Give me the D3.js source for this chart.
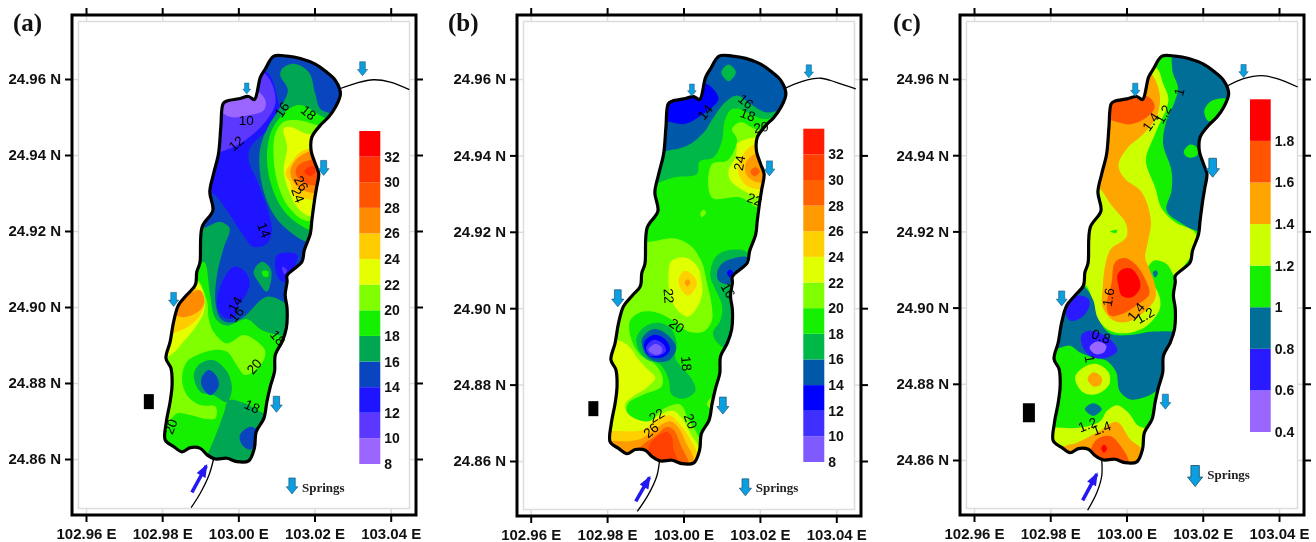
<!DOCTYPE html>
<html>
<head>
<meta charset="utf-8">
<script src="https://cdn.jsdelivr.net/npm/d3@7"></script>
<style>
html, body { margin: 0; padding: 0; background: #fff; }
svg { display: block; filter: blur(0.4px); }
text { font-family: "Liberation Sans", Arial, sans-serif; }
.tick-label text { font-weight: bold; font-size: 15px; fill: #111; }
.legend-label text { font-weight: bold; font-size: 14px; fill: #111; }
.iso { font-size: 13.5px; fill: #000; text-anchor: middle; dominant-baseline: central; }
.letter, .springs { font-family: "Liberation Serif", "Times New Roman", serif; font-weight: bold; }
</style>
</head>
<body>
<svg width="1316" height="542"></svg>
<script>
// All map points are [lon, lat] in thousandths of a degree from 103.00 E / 24.90 N.
var lon_ticks = [102.96, 102.98, 103.00, 103.02, 103.04];
var lat_ticks = [24.86, 24.88, 24.90, 24.92, 24.94, 24.96];

var lake_outline = [[9.3,66],[12.8,66],[16.3,65.4],[20.2,63.9],[22.8,62.1],[25.5,59.6],[26.8,56.1],[25.5,52.6],[23.7,50],[21.5,47.8],[19.3,44.7],[19.1,41.2],[20.2,37.7],[21.1,35.1],[20.5,31.2],[20,28.1],[19.3,22.8],[18.9,19.3],[17.3,14.9],[16.7,11.9],[12.8,8.3],[12.8,6.7],[12.3,3.2],[12.8,-0.4],[12.6,-5.6],[11.5,-9.1],[9.7,-12.6],[9.5,-17],[8.4,-20.9],[7.5,-24.9],[6.7,-29.3],[4.7,-32.8],[4.2,-37.2],[2.7,-40.5],[-0.4,-40.7],[-3,-39.8],[-6,-40],[-8.2,-38.9],[-10,-37.2],[-12.6,-37],[-14.8,-38.1],[-17,-36.7],[-19.2,-35],[-18.9,-30.2],[-17.9,-24.9],[-17.4,-20.5],[-17.7,-16.1],[-19,-13.5],[-17.9,-9.1],[-17,-3.9],[-15.7,0.5],[-13.5,3.2],[-11.3,5.8],[-10.9,9.3],[-10.1,11.6],[-9.5,21.1],[-6.7,25.4],[-7.5,30.3],[-6.5,35.1],[-5.2,40.4],[-4.6,47.4],[-4,53.5],[-3,54.2],[0.1,54.8],[2.7,55.4],[4.2,54.6],[5.8,60.5],[7.1,62.7]];

var levels_ab = [8, 10, 12, 14, 16, 18, 20, 22, 24, 26, 28, 30, 32];
var levels_c = [0.4, 0.6, 0.8, 1, 1.2, 1.4, 1.6, 1.8];
var colors_a = ["#9a66ff","#5c38ff","#1e14ff","#0a45c0","#00a652","#14f000","#80ff00","#e6ff00","#ffcc00","#ff8c00","#ff5500","#ff3300","#ff0000"];
var colors_b = ["#7f5aff","#4030ff","#0000ff","#0058a8","#00b848","#14f000","#80ff00","#e0ff00","#ffd000","#ff9a00","#ff6000","#ff4000","#ff1a00"];
var colors_c = ["#9966ff","#2a1aff","#006e96","#14f000","#ccff00","#ffa500","#ff5500","#ff0000"];

// Each band is [lower level, ring]. They stack in order, the lake outline cuts them.
var bands_a = [
 [12, [[-10,31.6],[-6.5,29.8],[-3,25.4],[1,19.3],[4,15.8],[7.5,16.7],[8.8,20.2],[7.5,26.3],[4.9,33.3],[2.7,38.6],[3.2,42.1],[7.5,46.5],[10.6,50.9],[10.2,55.3],[7.5,61.8],[-1.2,63.2],[-10,45.6]]],
 [10, [[-10,39.5],[-4.7,40.8],[0.5,43],[6.7,48.3],[9.7,53.5],[8.8,58.8],[6.7,61.8],[4.9,63.2],[-5.6,58.8],[-10,50]]],
 [8, [[-4.7,51.8],[-2.1,50],[2.3,50.4],[6.7,51.8],[7.1,54.4],[4.9,57],[1.4,57.9],[-5.6,56.1]]],
 [16, [[11.5,62.7],[14.5,64],[18.5,61.8],[20.2,56.1],[21.5,52.2],[25,50.4],[28.5,43.9],[28.5,19.3],[18.5,17.1],[13.7,19.7],[9.7,23.7],[7.1,29],[5.6,36],[5.8,42.1],[8,47.8],[10.2,51.3],[13,57],[11,61]]],
 [18, [[16.7,53.1],[21.5,50.4],[28.5,45.6],[28.5,26.3],[19.8,20.2],[16.3,21.5],[11.9,25.4],[8.8,31.6],[7.5,38.6],[8.4,45.6],[11,50],[14.5,52.8]]],
 [20, [[11.9,48.7],[16.3,49.1],[20.7,47.8],[28.5,45.6],[28.5,26.3],[19.8,22.8],[17.2,22.8],[13.2,26.3],[10.6,31.6],[9.3,38.6],[9.7,45.6]]],
 [22, [[11.9,46.9],[13.7,47.4],[18,45.6],[28.5,43.9],[28.5,26.3],[19.3,23.7],[15.4,26.3],[13.2,30.7],[11.9,36],[12.8,42.1]]],
 [24, [[19.3,41.7],[16.3,40.8],[13.7,37.7],[12.3,35.1],[13.7,32.5],[14.5,29.8],[19.8,28.1],[28.5,28.1],[28.5,42.1]]],
 [26, [[19.3,41.2],[15.4,39],[13.7,36],[14.5,32.9],[18,30.3],[28.5,30.7],[28.5,42.1]]],
 [28, [[18.5,38.6],[15.8,37.3],[15,35.5],[16.7,32.9],[20.7,32],[28.5,35.1],[23.3,39.5]]],
 [30, [[18.5,36.9],[17.3,35.5],[18.9,34.5],[20.2,35.5],[19.8,37]]],
 [16, [[-9.1,20.8],[-4.7,22.4],[-2.3,20.7],[-3.9,15.4],[-5.6,8.4],[-6,1.4],[-4.7,-3],[-2.1,-4.1],[1.4,-2.6],[7.5,2.7],[12.8,0.5],[16.3,-5.6],[16.3,-49.5],[-27.5,-49.5],[-27.5,11.9],[-12.6,20.7]]],
 [12, [[-4,7.1],[-1.2,10.6],[1.8,9.3],[3,6.2],[1.4,2.3],[0.1,0.5],[-1.2,-3],[-3.9,-2.6],[-5.6,0.5]]],
 [16, [[6.2,11.9],[8.6,9.7],[7.5,4],[5.3,6.6],[4,9.3]]],
 [18, [[6.2,9.4],[7.8,9.4],[7.8,8],[6.7,8]]],
 [12, [[10.2,13.7],[15.4,13.7],[12.3,6.6],[10.6,7.5],[9.7,10.1]]],
 [10, [[11.5,10.6],[12.8,9.7],[12.1,8.6]]],
 [18, [[-9.1,11.9],[-7.4,3.1],[-6,-3],[-3,-4.9],[2.3,-3.2],[6.2,-6.1],[11.9,-7.6],[16.3,-8.3],[16.3,-29.3],[7.5,-28.3],[1.8,-25.4],[-2.5,-24.5],[-3.7,-27.6],[-5.6,-32.8],[-8,-38.5],[-10,-42.5],[-27.5,-42.5],[-27.5,3.1],[-13.5,7.5]]],
 [20, [[-10.9,7.5],[-8.2,1.4],[-7.8,-3],[-6.5,-6.5],[-3,-9.6],[1.4,-7.4],[4.9,-9.1],[7.1,-11.8],[5.8,-15.3],[1.8,-17.9],[-0.4,-15.3],[-3,-11.8],[-6.5,-11.3],[-10.9,-12.7],[-13.5,-14.4],[-14.8,-18.8],[-13.5,-23.2],[-10,-25.8],[-6,-26.2],[-6,-29.3],[-8.2,-29.5],[-12.6,-28.4],[-16.1,-28],[-19.2,-31.1],[-27.5,-32],[-27.5,3.1],[-13.5,8.4]]],
 [16, [[-11.7,-17.9],[-10,-14.9],[-6.5,-14],[-3,-17],[-1.7,-21.4],[-3,-25],[-6.5,-23.2],[-10,-22.3]]],
 [14, [[-9.7,-18.8],[-7.8,-16.6],[-5.6,-18.4],[-5.2,-21],[-7.4,-23.2],[-9.5,-21]]],
 [14, [[0.4,-33.7],[3.2,-31.5],[5.3,-32.8],[4.5,-35.5],[3.3,-37.5],[1,-36.3]]],
 [22, [[-10.9,6.6],[-8.9,2.3],[-9.1,-1.3],[-10.9,-4.8],[-14.4,-9.1],[-17.9,-12.7],[-27.5,-14.4],[-27.5,3.1]]],
 [24, [[-10.9,4.9],[-8.9,1.8],[-10,-2.1],[-12.6,-4.8],[-16.1,-6.5],[-20.5,-7.4],[-20.5,3.1]]],
 [26, [[-10,4.4],[-8.9,1.4],[-10,-0.8],[-12.6,-2.3],[-15.2,-2.6],[-18.7,-0.4],[-13.5,3.1]]]
];

var bands_b = [
 [16, [[-11.4,30.3],[-7.9,32.2],[-2.6,34.2],[3.5,35.1],[4.2,38.4],[7.9,39.5],[10.1,43.9],[10.7,48.7],[12.3,51.9],[14.4,52.2],[18.8,50.2],[21.4,49.5],[24.5,50.4],[28.9,50.9],[28.9,71.9],[-11.4,71.9]]],
 [14, [[-11.4,40.4],[-4.4,41.2],[0.9,42.5],[5.3,46],[7.9,50],[10.9,53.9],[14,55.7],[17.5,53.5],[21.4,51.3],[24.5,51.7],[28.9,54.3],[28.9,71.9],[-11.4,71.9]]],
 [16, [[9.9,61.8],[11.8,63.8],[13.7,61.8],[11.8,59.4]]],
 [12, [[-11.4,48.2],[-4.4,48.9],[0,48.2],[3.9,50],[9.2,54.8],[6.1,58.7],[4.4,57.9],[2.6,55.2],[-11.4,55.2]]],
 [20, [[12.7,46.9],[14.9,48.7],[18.8,46.9],[23.6,45.6],[23.6,25.5],[19.3,26.4],[14.9,29],[7.4,29],[7.4,37.7],[11.4,38.6],[13.6,42.1],[14,44.3]]],
 [22, [[14,43],[18.4,44.7],[23.6,43.9],[23.6,29],[20.1,29],[16.6,30.3],[12.3,33.4],[11.8,36],[13.6,39.5],[14,42.1]]],
 [24, [[18.8,43],[16.2,41.2],[14.4,37.7],[14.4,35.1],[16.6,32],[23.6,31.6],[23.6,43]]],
 [26, [[18.8,40.4],[16.2,37.7],[16.6,34.7],[19.7,32.9],[23.6,33.4],[23.6,39.5]]],
 [28, [[18.8,36.9],[17.5,35.8],[18.6,34.5],[20,35.8]]],
 [20, [[4.4,24.8],[5.3,25.8],[5.9,25],[4.8,23.9]]],
 [20, [[-9.6,17.3],[-2.6,18.3],[1.8,16.4],[4.8,12],[6.1,6.8],[7.4,0.6],[7.4,-3.3],[5.3,-6.1],[1.3,-6.1],[-2.6,-3.3],[-7,-1.1],[-11.4,-1.1],[-14,-3.3],[-13.8,-7.7],[-11.4,-12.1],[-7.9,-14.3],[-5.7,-17.3],[-5.7,-20.4],[-10.5,-22.6],[-14.4,-24.8],[-14.9,-26.9],[-12.7,-29.3],[-8.8,-30],[-6.1,-26.9],[-0.9,-25.2],[1.3,-29.1],[3.9,-33.5],[5.3,-37],[2.6,-42.3],[-28.9,-42.3],[-28.9,17.3]]],
 [20, [[7.4,-23.4],[7.9,-26.5],[6.1,-25.2]]],
 [16, [[7,8.5],[8.3,13.3],[11.4,15.1],[16.6,14.6],[14.9,7.6],[14.9,-11.6],[11.4,-10.8],[8.8,-9],[7.7,-6.4],[9.6,-3.3],[10.1,0.6],[8.3,5]]],
 [14, [[8.8,9.4],[10.5,12],[16.6,13.3],[14,8.5],[11.8,6.3],[9.2,7.2]]],
 [12, [[11.4,9.4],[12.3,10.1],[13,9.2],[12.1,8.1]]],
 [22, [[-3.9,9.4],[-3.1,12.4],[0.4,13.3],[3.5,11.1],[4.8,6.8],[4.6,2.4],[1.3,-2.2],[-1.8,-0.3],[-3.5,3.3]]],
 [24, [[-1.3,7.6],[0.4,9.8],[2.6,8.5],[3.5,6.3],[1.3,3.3],[-0.4,4.6]]],
 [26, [[0.3,6.8],[1.1,7.6],[1.8,6.8],[1,5.7]]],
 [16, [[-12.3,-7.7],[-10.5,-5.1],[-7,-3.8],[-3.5,-5.1],[-1.8,-9],[-2.2,-12.9],[-0.4,-15.6],[2.2,-18.6],[3.1,-21.7],[0,-23.7],[-3.1,-22.6],[-3.9,-18.6],[-6.1,-14.7],[-9.6,-13.4],[-11.8,-10.8]]],
 [14, [[-10.9,-8.1],[-7.9,-5.5],[-4.4,-6.8],[-1.9,-10.3],[-3.5,-13.4],[-7,-14],[-9.6,-12.5]]],
 [12, [[-10.3,-9],[-7.9,-7],[-4.8,-8.1],[-3.5,-10.8],[-5.3,-12.8],[-7.9,-12.9],[-9.8,-11.6]]],
 [10, [[-9.8,-10.3],[-7.9,-8.3],[-5.3,-9.4],[-4.6,-11.2],[-6.1,-12.3],[-8.8,-12.3]]],
 [8, [[-9.2,-10.9],[-7.4,-9.4],[-5.7,-10.3],[-5.7,-11.6],[-7.4,-12.2]]],
 [22, [[-21.9,-8.6],[-16.6,-8.6],[-14.4,-9.9],[-11.8,-13.4],[-9.2,-16.2],[-7.4,-18.2],[-9.6,-20.8],[-13.1,-23],[-15.3,-25.2],[-14.7,-27.4],[-12.3,-29.1],[-9.2,-29.6],[-6.1,-27.8],[-2.6,-26.9],[-0.2,-29.1],[2.2,-33.5],[3.9,-36.1],[4.4,-42.3],[-24.5,-42.3]]],
 [24, [[-21.9,-32.6],[-19.3,-32.2],[-14.9,-32.2],[-10.5,-31.8],[-7,-29.1],[-3.5,-28.1],[-0.9,-30.4],[1.8,-34.4],[3.5,-37.9],[3.5,-42.3],[-24.5,-42.3]]],
 [26, [[-20.1,-35.3],[-14,-34.8],[-10.5,-33.9],[-7,-31.3],[-3.5,-29.6],[-1.3,-31.3],[0.9,-35.7],[2.6,-39.2],[2.6,-42.3],[-24.5,-42.3]]],
 [28, [[-11.4,-37],[-10.1,-35.3],[-7.4,-33.5],[-4.4,-31.1],[-2.6,-31.8],[-0.4,-36.6],[1.3,-40.1],[1.3,-42.7],[-7.9,-42.7]]],
 [30, [[-9.2,-37],[-7.9,-34.4],[-4.4,-32.4],[-3.1,-33.5],[-2.6,-37],[-1.3,-41.4],[-6.1,-42.7],[-7.9,-39.6]]]
];

var bands_c = [
 [0.8, [[13.1,70],[12,62.5],[13.5,57.7],[12.6,53.9],[10.5,49.1],[9.6,43],[11.8,36],[11.8,30.7],[10.5,25.5],[14,22.4],[18.4,20.2],[27,20.2],[27,70]]],
 [1, [[20.4,51.7],[22.4,54.3],[26.3,54.7],[25,50.8],[21.5,48.9]]],
 [1, [[15,40.8],[16.7,42.8],[18.4,42.1],[18.6,40],[16.3,39.4]]],
 [1.2, [[5.3,64],[8.1,62.7],[9.6,58.8],[11,54.4],[7.5,45.6],[5.1,38.6],[7.5,31.6],[9.3,25.9],[12.8,22.4],[18,19.7],[18,15.4],[15.4,11.4],[12.8,8.3],[10.6,11.4],[7.1,12.3],[5.3,9.7],[5.3,8.4],[6.7,6.6],[8.6,3.1],[8.7,-0.4],[5.3,-4.8],[0.1,-6.7],[-4.3,-6.1],[-7.8,-2.6],[-8.7,1.4],[-11.1,6.2],[-17.4,6.6],[-17.4,31.6],[-12.2,64]]],
 [0.8, [[6.9,9.2],[7.8,9.8],[8.2,8.8],[7.5,7.9]]],
 [1, [[-4.3,20],[-2.5,20.4],[-2.7,19.6]]],
 [1.4, [[6.2,61.8],[8.7,56.1],[8,50.4],[4.5,45.6],[0.1,41.7],[-2.1,37.3],[-0.4,33.8],[4,30.3],[6.4,22.8],[5.5,16.7],[4.9,13.2],[6,10.1],[7.5,5.8],[7.5,2.3],[4.5,-1.3],[0.5,-3.7],[-3.4,-3.4],[-6.2,0],[-6.2,5.8],[-5.6,11],[-4.1,15.4],[-0.1,18.4],[-0.1,21.9],[-3.9,26.8],[-7.8,32],[-12.2,33.3],[-12.2,54.4],[1.8,63.2]]],
 [1.6, [[-6,49.6],[-3.4,49],[1,48.1],[5.4,50],[7.4,52.6],[6.4,54.8],[3.6,56.1],[-1.7,57],[-6,56.1]]],
 [1.6, [[-3,11.9],[-0.4,13],[2.7,11],[4.9,7.5],[6,3.6],[3.2,1],[-1.2,-1.7],[-4.3,-2.1],[-5.2,0.5],[-3.9,6.6]]],
 [1.8, [[-2.4,8.4],[-1.2,10],[1,10.3],[3.1,8],[3.6,5.3],[1.4,2.7],[-1.2,3.1],[-2.1,5.8]]],
 [0.8, [[-11.3,5.6],[-8.8,2.1],[-7.6,-2.6],[-4.3,-6.8],[1,-7.2],[7.1,-6.3],[14.1,-7.2],[14.1,-14.4],[8.4,-21.4],[4.5,-23.6],[1,-24.1],[-1.8,-21.9],[-2.7,-17],[-5.1,-14],[-8.7,-13.1],[-12.2,-11.8],[-14.8,-10],[-19.2,-10.5],[-20.9,3.1],[-15.7,5.8]]],
 [0.6, [[-16.1,0],[-13,3.1],[-10,2.3],[-9.7,0.5],[-11.8,-2.6],[-14.9,-3.4]]],
 [0.6, [[-11.9,-7.4],[-10,-6.1],[-6.9,-6.7],[-3.9,-8.7],[-2.4,-11.3],[-5.2,-13.1],[-8.7,-13.1],[-11.1,-11.1]]],
 [0.4, [[-9.7,-10.5],[-7.7,-8.9],[-5.3,-10],[-6,-11.8],[-8.2,-12.2]]],
 [1.2, [[-13.5,-18.4],[-11.3,-15.7],[-7.8,-14.8],[-4.7,-17],[-4.5,-20.1],[-7.8,-22.7],[-11.3,-22.3]]],
 [1.4, [[-10.2,-18.6],[-8.7,-17],[-6.5,-18.4],[-6.7,-20.1],[-8.7,-20.7]]],
 [0.8, [[-10.9,-26.6],[-8.7,-25.1],[-6.5,-26.6],[-8.7,-28.4]]],
 [1.2, [[-19.2,-31.5],[-12.2,-31.5],[-6.9,-29.8],[-5.1,-27.1],[-2.5,-25.6],[0.5,-27.6],[3.2,-31.1],[8.4,-32.8],[8.4,-44.2],[-22.7,-44.2],[-22.7,-31.5]]],
 [1.4, [[-16.5,-36.8],[-13,-35.5],[-7.8,-32.8],[-2.5,-30],[1,-34.6],[4,-37.2],[4.5,-44.2],[-12.2,-44.2]]],
 [1.6, [[-9.5,-38.1],[-7.8,-34.6],[-4.3,-33.7],[-1.2,-36.8],[0.5,-40.7],[-3.4,-44.2],[-8.7,-42.5]]],
 [1.8, [[-6.6,-37],[-5.9,-35.9],[-5.1,-37],[-5.9,-38.1]]]
];

// Contour labels: [text, lon, lat, rotation].
var labels_a = [["10",2.1,49.1,0],["12",-0.5,43,-40],["16",11.5,51.9,-55],["18",18.4,51.1,40],["26",16.5,32.5,60],["24",15.6,29.4,70],["14",6.7,20.2,70],["14",-0.8,0.7,-60],["16",-0.5,-2,-50],["18",10.3,-8.1,50],["20",4.2,-15.7,-50],["18",3.6,-26.2,25],["20",-17.7,-31.5,-70]];
var labels_b = [["16",16.3,54.1,40],["18",16.8,50.6,20],["20",20.3,47.3,-10],["14",5.7,51.3,-50],["24",14.7,38,-80],["22",18.6,28.4,20],["16",11.6,4.6,60],["22",-3.9,3.2,85],["20",-1.8,-4.6,35],["18",0.7,-14.5,85],["22",-7,-28.1,-30],["26",-8.5,-32,-40],["20",1.8,-29.6,70]];
var labels_c = [["1",13.9,56.6,-75],["1.2",9.7,50.7,-60],["1.4",6.4,48.7,-55],["1.6",-4.7,2.7,-80],["1.4",2.5,-1.1,-50],["1.2",4.9,-2.1,-30],["0.8",-6.7,-7.6,20],["1",-9.7,-13.5,80],["1.2",-10.2,-30.8,-20],["1.4",-6.5,-31.7,-20]];

var river_north_a = [[26.8,57.5],[31.2,59],[35.5,59.8],[39.9,59.2],[44.9,57.2]];
var river_north_b = [[26.2,57.4],[31.1,59.4],[35.9,60.2],[39.8,59.2],[45.1,57.4]];
var river_north_c = [[26.3,58.1],[30.7,60.1],[35.5,60.9],[39.5,60.1],[44.9,57.9]];
var river_south_a = [[-6.5,-40],[-7.7,-44.2],[-10,-49],[-12.4,-52.8]];
var river_south_b = [[-6.3,-40.1],[-7,-44],[-9.2,-48.8],[-12.1,-53.2]];
var river_south_c = [[-6.5,-40],[-6.5,-44.2],[-7.8,-48.6],[-10.2,-53.2]];

// Spring arrows, last one is the legend key.
var springs_a = [[2.2,57.5],[32.6,62.7],[22.4,36.6],[-17,2],[10,-25.6],[14.1,-47.1]];
var springs_b = [[2.2,57.1],[32.8,62],[22.5,36.6],[-17.2,2.6],[10.3,-25.5],[16.2,-46.9]];
var springs_c = [[2.3,57.2],[30.7,62.1],[22.6,36.7],[-17,2.4],[10.2,-24.7],[18,-44.2]];
var station_a = [-23.5,-24.9], station_b = [-23.6,-26.3], station_c = [-25.6,-27.6];
var inflow_a = [[-12.2,-48.8],[-8.4,-41.8]];
var inflow_b = [[-12.5,-50.6],[-8.9,-44.3]];
var inflow_c = [[-11.5,-50.6],[-7.8,-43.7]];

var panels = [
    {letter: "(a)", letter_x: 13, bands: bands_a, base: 14, levels: levels_ab, top: 34, colors: colors_a, labels: labels_a,
     north: river_north_a, south: river_south_a, springs: springs_a, spring_h: [11,14,15,14,16,16], station: station_a, station_size: [10,15], inflow: inflow_a,
     frame: {l: 72, r: 416, t: 15, b: 515}, xr: [86, 390.7], yr: [459, 79],
     legend: {x0: 359.3, x1: 380.3, t: 131, b: 464}, key_x: 302, key_y: 488},
    {letter: "(b)", letter_x: 448, bands: bands_b, base: 18, levels: levels_ab, top: 34, colors: colors_b, labels: labels_b,
     north: river_north_b, south: river_south_b, springs: springs_b, spring_h: [12,13,15,17,17,17], station: station_b, station_size: [10,15], inflow: inflow_b,
     frame: {l: 517, r: 861, t: 15, b: 516}, xr: [530.7, 836.3], yr: [461, 79],
     legend: {x0: 803.3, x1: 824.3, t: 128.7, b: 462}, key_x: 755.7, key_y: 488},
    {letter: "(c)", letter_x: 893, bands: bands_c, base: 1, levels: levels_c, top: 2, colors: colors_c, labels: labels_c,
     north: river_north_c, south: river_south_c, springs: springs_c, spring_h: [13,13,19,15,15,21], station: station_c, station_size: [12,19], inflow: inflow_c,
     frame: {l: 960, r: 1304, t: 15, b: 515}, xr: [974, 1279], yr: [460, 79],
     legend: {x0: 1250, x1: 1270.7, t: 99.3, b: 432}, key_x: 1207.3, key_y: 475}
];

var svg = d3.select("svg");

panels.forEach(function(p, idx) {
    var x = d3.scaleLinear().domain([102.96, 103.04]).range(p.xr),
        y = d3.scaleLinear().domain([24.86, 24.96]).range(p.yr),
        color = d3.scaleOrdinal().domain(p.levels).range(p.colors),
        px = function(d) { return x(103 + d[0] / 1000); },
        py = function(d) { return y(24.9 + d[1] / 1000); },
        f = p.frame,
        g = svg.append("g");

    var ring = d3.line().x(px).y(py).curve(d3.curveCatmullRomClosed.alpha(0.5)),
        open = d3.line().x(px).y(py).curve(d3.curveCatmullRom.alpha(0.5));

    g.append("text").attr("class", "letter").text(p.letter)
        .attr("x", p.letter_x).attr("y", 31).attr("font-size", 25).attr("fill", "#111");

    // Frame and ticks.
    g.append("rect").attr("x", f.l + 6.5).attr("y", f.t + 6.5)
        .attr("width", f.r - f.l - 13).attr("height", f.b - f.t - 13)
        .attr("fill", "none").attr("stroke", "#ddd").attr("stroke-width", 1.5);

    function side(axis, tx, ty, ticks) {
        var outer = g.append("g").attr("transform", "translate(" + tx + "," + ty + ")").attr("class", "tick-label")
            .call(axis.tickValues(ticks).tickSize(7));
        outer.select(".domain").remove();
        outer.selectAll("line").attr("stroke", "#000").attr("stroke-width", 2);
    }
    var fmt_lon = function(d) { return d.toFixed(2) + " E"; },
        fmt_lat = function(d) { return d.toFixed(2) + " N"; };
    side(d3.axisTop(x).tickFormat(""), 0, f.t, lon_ticks);
    side(d3.axisRight(y).tickFormat(""), f.r, 0, lat_ticks);
    side(d3.axisBottom(x).tickFormat(fmt_lon).tickPadding(6.8), 0, f.b, lon_ticks);
    side(d3.axisLeft(y).tickFormat(fmt_lat).tickPadding(4), f.l, 0, lat_ticks);

    [[d3.axisTop(x), 0, f.t + 6.5, lon_ticks], [d3.axisBottom(x), 0, f.b - 6.5, lon_ticks],
     [d3.axisLeft(y), f.l + 6.5, 0, lat_ticks], [d3.axisRight(y), f.r - 6.5, 0, lat_ticks]].forEach(function(a) {
        var inner = g.append("g").attr("transform", "translate(" + a[1] + "," + a[2] + ")")
            .call(a[0].tickValues(a[3]).tickSize(6.5).tickFormat(""));
        inner.select(".domain").remove();
        inner.selectAll("line").attr("stroke", "#ddd").attr("stroke-width", 1.5);
    });
    g.append("rect").attr("x", f.l).attr("y", f.t)
        .attr("width", f.r - f.l).attr("height", f.b - f.t)
        .attr("fill", "none").attr("stroke", "#000").attr("stroke-width", 3);

    // Lake, clipped to its own outline.
    var clip_id = "lake-" + idx;
    g.append("clipPath").attr("id", clip_id).append("path").attr("d", ring(lake_outline));
    var lake = g.append("g").attr("clip-path", "url(#" + clip_id + ")");
    lake.append("path").attr("d", ring(lake_outline)).attr("fill", color(p.base));
    lake.selectAll("path.band").data(p.bands).enter().append("path")
        .attr("class", "band")
        .attr("d", function(d) { return ring(d[1]); })
        .attr("fill", function(d) { return color(d[0]); });

    g.append("path").attr("d", ring(lake_outline))
        .attr("fill", "none").attr("stroke", "#000").attr("stroke-width", 3.2);

    [p.north, p.south].forEach(function(r) {
        g.append("path").attr("d", open(r)).attr("fill", "none").attr("stroke", "#000").attr("stroke-width", 1.3);
    });

    g.selectAll("text.iso").data(p.labels).enter().append("text")
        .attr("class", "iso")
        .attr("transform", function(d) { return "translate(" + px([d[1], d[2]]) + "," + py([d[1], d[2]]) + ") rotate(" + d[3] + ")"; })
        .text(function(d) { return d[0]; });

    // Spring arrows.
    g.selectAll("path.spring").data(p.springs).enter().append("path")
        .attr("class", "spring")
        .attr("transform", function(d, i) {
            return "translate(" + px(d) + "," + py(d) + ") scale(" + p.spring_h[i] + ")";
        })
        .attr("d", "M-0.2,-0.5H0.2V0.05H0.36L0,0.5L-0.36,0.05H-0.2Z")
        .attr("fill", "#0b9fe0").attr("stroke", "#1d4f6e").attr("stroke-width", 0.04);

    g.append("text").attr("class", "springs").text("Springs")
        .attr("x", p.key_x).attr("y", p.key_y).attr("dy", "0.32em").attr("font-size", 13).attr("fill", "#222");

    // Sampling station block.
    g.append("rect")
        .attr("x", px(p.station) - p.station_size[0] / 2)
        .attr("y", py(p.station) - p.station_size[1] / 2)
        .attr("width", p.station_size[0]).attr("height", p.station_size[1])
        .attr("fill", "#000");

    // Inflow arrow.
    var a0 = p.inflow[0], a1 = p.inflow[1],
        ang = Math.atan2(py(a1) - py(a0), px(a1) - px(a0)) * 180 / Math.PI;
    g.append("line").attr("x1", px(a0)).attr("y1", py(a0)).attr("x2", px(a1)).attr("y2", py(a1))
        .attr("stroke", "#2318f0").attr("stroke-width", 3.5);
    g.append("path").attr("d", "M2,0L-11,-5L-11,5Z").attr("fill", "#2318f0")
        .attr("transform", "translate(" + px(a1) + "," + py(a1) + ") rotate(" + ang + ")");

    // Colour bar.
    var l = p.legend,
        step = p.levels[1] - p.levels[0],
        ly = d3.scaleLinear().domain([p.levels[0], p.top]).range([l.b, l.t]);
    g.selectAll("rect.swatch").data(p.levels).enter().append("rect")
        .attr("class", "swatch")
        .attr("x", l.x0).attr("width", l.x1 - l.x0)
        .attr("y", function(d) { return ly(d + step); })
        .attr("height", function(d) { return ly(d) - ly(d + step); })
        .attr("fill", function(d) { return color(d); });
    var lg = g.append("g").attr("class", "legend-label").attr("transform", "translate(" + l.x1 + ",0)")
        .call(d3.axisRight(ly).tickValues(p.levels).tickSize(0).tickPadding(4).tickFormat(String));
    lg.select(".domain").remove();
});
</script>
</body>
</html>
